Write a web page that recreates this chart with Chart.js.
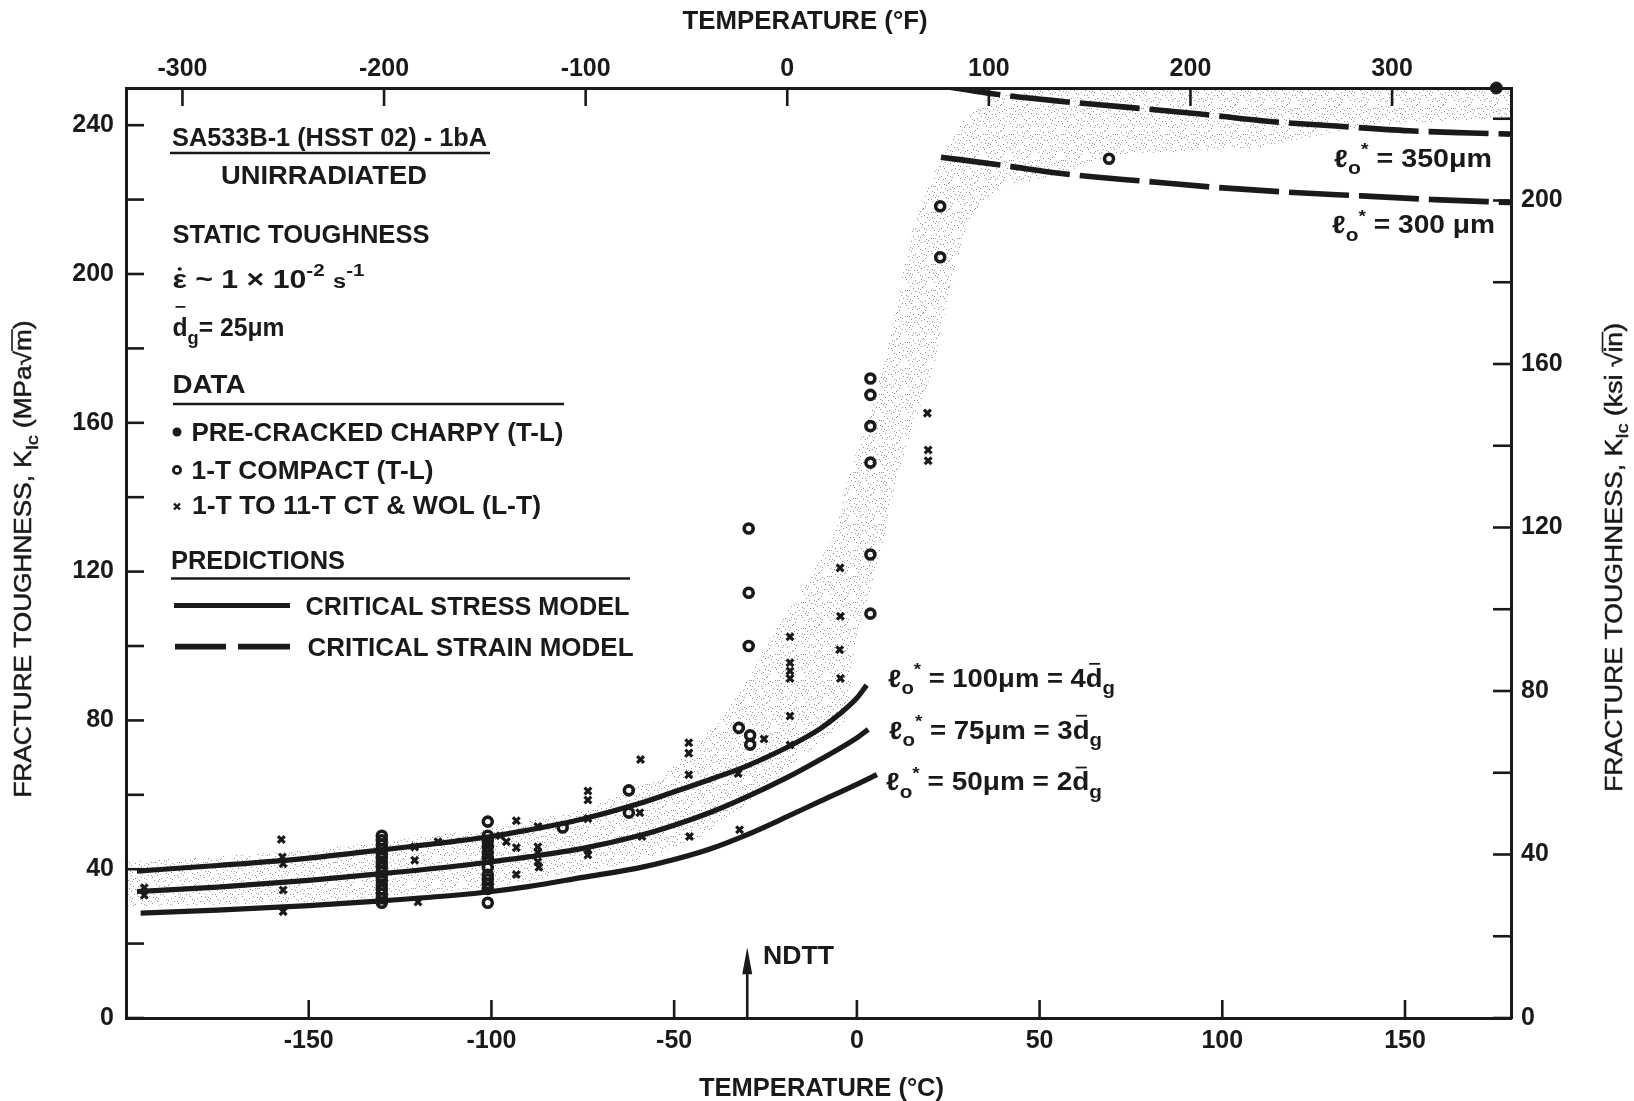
<!DOCTYPE html>
<html>
<head>
<meta charset="utf-8">
<script src="https://cdn.jsdelivr.net/npm/chart.js@4.4.1/dist/chart.umd.min.js"></script>
<style>
  html, body { margin: 0; padding: 0; background: #fff; }
  #marco { width: 1634px; height: 1101px; position: relative; }
</style>
</head>
<body>
<div id="marco"><canvas id="grafico"></canvas></div>
<script>
// temperatures in deg C, toughness K_Ic in MPa*sqrt(m)
var cTicks = [-150, -100, -50, 0, 50, 100, 150];
var fTicks = [-300, -200, -100, 0, 100, 200, 300];
var mpaTicks = [0, 20, 40, 60, 80, 100, 120, 140, 160, 180, 200, 220, 240];
var ksiTicks = [0, 20, 40, 60, 80, 100, 120, 140, 160, 180, 200, 220];

// critical stress model curves
var stress100 = [[-197, 39.5], [-175, 41], [-150, 43], [-130, 45.2], [-110, 47.5], [-100, 48.8], [-90, 50.5], [-75, 53.5],
  [-60, 57.5], [-50, 60.8], [-40, 64.2], [-30, 67.8], [-20, 72.3], [-10, 77.8], [-5, 81.5], [0, 86], [2.7, 89.5]];
var stress75 = [[-197, 34], [-175, 35.2], [-150, 37], [-130, 38.8], [-110, 40.8], [-100, 42], [-90, 43.3], [-75, 45.6],
  [-60, 48.9], [-50, 51.8], [-40, 55.3], [-30, 59.5], [-20, 64.2], [-10, 69.5], [0, 75.3], [3.1, 77.6]];
var stress50 = [[-196, 28.2], [-175, 29], [-150, 30.2], [-130, 31.5], [-110, 33], [-100, 34], [-90, 35.3], [-75, 37.8],
  [-60, 40.3], [-50, 42.6], [-40, 45.5], [-30, 49.3], [-20, 53.7], [-10, 58.3], [0, 62.8], [5.5, 65.4]];

// critical strain model curves
var strain350 = [[23, 250.6], [36, 248.6], [54, 246.6], [72, 245], [94, 243], [113, 241], [132, 239.7], [151, 238.5], [168, 237.9], [179, 237.6]];
var strain300 = [[23, 231.4], [40, 229.2], [56, 227], [66, 226], [78, 225], [98, 223.3], [118, 222], [138, 221], [158, 220], [179, 219.2]];

// measured data
var charpy = [[175, 250]];
var compact = [[-130, 49], [-130, 47.8], [-130, 46.6], [-130, 45.4], [-130, 44.2], [-130, 43], [-130, 41.8], [-130, 40.6],
  [-130, 39.4], [-130, 38.2], [-130, 37], [-130, 35.8], [-130, 34.6], [-130, 33.4], [-130, 32.2], [-130, 31],
  [-101, 52.8], [-101, 49], [-101, 47.5], [-101, 46], [-101, 44.5], [-101, 43], [-101, 40.5], [-101, 38.5], [-101, 37.3],
  [-101, 36], [-101, 34.7], [-101, 31],
  [-80.5, 51.2], [-62.4, 61.2], [-62.4, 55.2], [-32.3, 78], [-29.2, 76], [-29.2, 73.5],
  [-29.6, 131.6], [-29.6, 114.3], [-29.6, 100],
  [3.7, 171.9], [3.7, 167.5], [3.7, 159.1], [3.7, 149.3], [3.7, 124.6], [3.7, 108.7],
  [22.8, 218.2], [22.8, 204.5], [69, 231]];
var wol = [[-195, 35], [-195, 33],
  [-157.5, 48], [-157.2, 43.3], [-157, 41.5], [-157, 34.4], [-157, 28.6],
  [-130, 42], [-130, 36], [-130, 31.5],
  [-121, 46], [-121, 42.4], [-120.1, 31.2], [-114.6, 47.4], [-101, 43.3], [-97.6, 49],
  [-95.9, 47.4], [-93.2, 53], [-93.2, 45.8], [-93.2, 38.6],
  [-87.3, 51.5], [-87.3, 46], [-87.3, 44.5], [-87.3, 42], [-87, 40.5],
  [-73.6, 61], [-73.6, 58.6], [-73.6, 53.6], [-73.6, 45.2], [-73.6, 43.8],
  [-59.2, 69.5], [-59.4, 55.2], [-58.8, 48.8],
  [-46, 74], [-46, 71.2], [-46, 65.4], [-45.8, 48.8],
  [-32.5, 65.7], [-32.1, 50.6], [-25.4, 75],
  [-18.3, 102.5], [-18.3, 95.5], [-18.3, 93.3], [-18.3, 91.3], [-18.3, 81.2], [-18.3, 73.4],
  [-4.6, 121], [-4.5, 108], [-4.7, 99], [-4.5, 91.3],
  [19.3, 162.6], [19.5, 152.7], [19.5, 149.8]];

// scatter band edges
var bandLow = [[-200, 30], [-150, 31], [-100, 35], [-60, 42], [-42, 49], [-27, 60], [-14, 71], [-3, 80], [0, 102], [7, 127],
  [11, 146], [21, 175], [25, 194], [30, 213], [35, 220], [39, 223], [56, 227], [70, 232], [110, 234], [140, 240], [179, 242]];
var bandTop = [[-200, 42], [-150, 45], [-100, 51], [-75, 56], [-53, 65], [-37.5, 80], [-28.5, 93], [-24, 102], [-12, 120],
  [-6.5, 129], [-2, 146], [8, 178], [15, 212], [19, 223], [28, 240], [35, 247], [50, 250], [179, 250]];

var ndttTemp = -30;
var mpaPorKsi = 1.0988;

var tinta = '#1a1a1a';
var familia = "'Liberation Sans', Arial, Helvetica, sans-serif";

function puntos(arr) {
    return arr.map(function (p) { return { x: p[0], y: p[1] }; });
}
function fijarTicks(lista) {
    return function (axis) {
        axis.ticks = lista.map(function (v) { return { value: v }; });
    };
}
function cada40(v) {
    return v % 40 === 0 ? String(v) : '';
}

// stipple texture for the scatter band
var canvas = document.getElementById('grafico');
var trama = document.createElement('canvas');
trama.width = 26;
trama.height = 26;
var tc = trama.getContext('2d');
tc.fillStyle = 'rgba(0,0,0,0.42)';
for (var i = 0; i < 26; i++) {
    for (var j = 0; j < 26; j++) {
        if ((i * 17 + j * 31 + ((i * j) % 7) * 5) % 13 === 0) tc.fillRect(i, j, 1, 1);
    }
}
var punteado = canvas.getContext('2d').createPattern(trama, 'repeat');

// text made of runs: plain, subscript, superscript, overbar
function tramos(ctx, x, y, runs, size, weight, dibujar, trazo) {
    var cx = x;
    runs.forEach(function (r) {
        var fs = size, dy = 0;
        if (r.sub) { fs = size * 0.74; dy = size * 0.3; }
        if (r.sup) { fs = size * 0.68; dy = -size * 0.46; }
        if (r.small) { fs = size * 0.78; }
        ctx.font = weight + ' ' + fs + 'px ' + familia;
        var w = ctx.measureText(r.t).width;
        if (dibujar) {
            ctx.fillText(r.t, cx, y + dy);
            if (trazo) {
                ctx.lineWidth = trazo;
                ctx.strokeText(r.t, cx, y + dy);
            }
            if (r.bar) ctx.fillRect(cx + (r.full ? 0 : w * 0.2), y - size * (r.barAt || 0.95), r.full ? w : w * 0.65, Math.max(1.5, size * 0.07));
            if (r.dot) {
                ctx.beginPath();
                ctx.arc(cx + w * 0.5, y - size * 0.74, size * 0.07, 0, 2 * Math.PI);
                ctx.fill();
            }
        }
        cx += w;
    });
    return cx - x;
}
// same, squeezed or stretched to a given width
function tramosAncho(ctx, x, y, runs, size, weight, ancho, trazo) {
    var w = tramos(ctx, 0, 0, runs, size, weight, false);
    ctx.save();
    ctx.translate(x, y);
    ctx.scale(ancho / w, 1);
    tramos(ctx, 0, 0, runs, size, weight, true, trazo);
    ctx.restore();
}
function texto(ctx, t, x, y, ancho) {
    tramosAncho(ctx, x, y, [{ t: t }], 25, 'bold', ancho);
}
function raya(ctx, x1, y1, x2, y2, w) {
    ctx.lineWidth = w;
    ctx.beginPath();
    ctx.moveTo(x1, y1);
    ctx.lineTo(x2, y2);
    ctx.stroke();
}
function ele(num, tail) {
    var r = [{ t: '\u2113' }, { t: 'o', sub: true }, { t: '*', sup: true }, { t: ' = ' + num }];
    return r.concat(tail || []);
}

var decor = {
    id: 'decor',
    afterDraw: function (chart) {
        var ctx = chart.ctx;
        var s = chart.scales;
        var a = chart.chartArea;
        ctx.save();
        ctx.strokeStyle = tinta;
        ctx.fillStyle = tinta;
        ctx.textBaseline = 'alphabetic';
        ctx.textAlign = 'left';
        ctx.lineCap = 'butt';

        // inward tick marks on all four sides
        s.x.ticks.forEach(function (t) { var p = s.x.getPixelForValue(t.value); raya(ctx, p, a.bottom, p, a.bottom - 18, 2.6); });
        s.xF.ticks.forEach(function (t) { var p = s.xF.getPixelForValue(t.value); raya(ctx, p, a.top, p, a.top + 18, 2.6); });
        s.y.ticks.forEach(function (t) { var p = s.y.getPixelForValue(t.value); raya(ctx, a.left, p, a.left + 18, p, 2.6); });
        s.yR.ticks.forEach(function (t) { var p = s.yR.getPixelForValue(t.value); raya(ctx, a.right, p, a.right - 18, p, 2.6); });

        // axis titles
        texto(ctx, 'TEMPERATURE (\u00B0F)', 682.6, 28.6, 245);
        texto(ctx, 'TEMPERATURE (\u00B0C)', 699, 1096, 245);
        var tituloIzq = [{ t: 'FRACTURE TOUGHNESS, K' }, { t: 'Ic', sub: true }, { t: ' (MPa' }, { t: '\u221A' }, { t: 'm', bar: true, full: true, barAt: 0.86 }, { t: ')' }];
        var tituloDer = [{ t: 'FRACTURE TOUGHNESS, K' }, { t: 'Ic', sub: true }, { t: ' (ksi ' }, { t: '\u221A' }, { t: 'in', bar: true, full: true, barAt: 0.86 }, { t: ')' }];
        [[tituloIzq, 31, 559, 477], [tituloDer, 1621.5, 557.5, 469]].forEach(function (d) {
            ctx.save();
            ctx.translate(d[1], d[2]);
            ctx.rotate(-Math.PI / 2);
            tramosAncho(ctx, -d[3] / 2, 0, d[0], 23, 'normal', d[3], 0.5);
            ctx.restore();
        });

        // description and legend block
        texto(ctx, 'SA533B-1 (HSST 02) - 1bA', 172, 146, 315);
        raya(ctx, 170, 153, 490, 153, 2.5);
        texto(ctx, 'UNIRRADIATED', 221, 184, 206);
        texto(ctx, 'STATIC TOUGHNESS', 172.5, 243, 257);
        tramosAncho(ctx, 172.5, 287.5, [{ t: '\u03B5', dot: true }, { t: ' ~ 1 \u00D7 10' }, { t: '-2', sup: true }, { t: ' ' }, { t: 's', small: true }, { t: '-1', sup: true }], 25, 'bold', 192);
        tramosAncho(ctx, 172.5, 336, [{ t: 'd', bar: true, barAt: 1.2 }, { t: 'g', sub: true }, { t: '= 25\u03BCm' }], 25, 'bold', 112);
        texto(ctx, 'DATA', 172.5, 393, 73);
        raya(ctx, 173, 404, 564, 404, 2.5);

        ctx.beginPath();
        ctx.arc(177, 432, 4.5, 0, 2 * Math.PI);
        ctx.fill();
        texto(ctx, 'PRE-CRACKED CHARPY (T-L)', 191.5, 441, 372);
        ctx.lineWidth = 2.8;
        ctx.beginPath();
        ctx.arc(177, 470, 3.6, 0, 2 * Math.PI);
        ctx.stroke();
        texto(ctx, '1-T COMPACT (T-L)', 191.5, 478.6, 242);
        raya(ctx, 174, 503.5, 180, 509.5, 2.4);
        raya(ctx, 180, 503.5, 174, 509.5, 2.4);
        texto(ctx, '1-T TO 11-T CT & WOL (L-T)', 192, 514, 349);

        texto(ctx, 'PREDICTIONS', 171, 568.6, 174);
        raya(ctx, 171, 578.6, 630, 578.6, 2.5);
        raya(ctx, 174, 605.5, 290, 605.5, 5.2);
        texto(ctx, 'CRITICAL STRESS MODEL', 305.5, 615, 324);
        raya(ctx, 175, 646.6, 226, 646.6, 5.6);
        raya(ctx, 238, 646.6, 290, 646.6, 5.6);
        texto(ctx, 'CRITICAL STRAIN MODEL', 307.5, 656, 326);

        // curve labels
        var dg = function (n) { return [{ t: ' = ' + n }, { t: 'd', bar: true, barAt: 0.95 }, { t: 'g', sub: true }]; };
        tramosAncho(ctx, 1334, 166.7, ele('350\u03BCm'), 25, 'bold', 158);
        tramosAncho(ctx, 1332, 233, ele('300 \u03BCm'), 25, 'bold', 163);
        tramosAncho(ctx, 888, 686.7, ele('100\u03BCm', dg(4)), 25, 'bold', 227);
        tramosAncho(ctx, 889, 738.6, ele('75\u03BCm', dg(3)), 25, 'bold', 213);
        tramosAncho(ctx, 886, 790.4, ele('50\u03BCm', dg(2)), 25, 'bold', 216);

        // NDTT arrow
        var xn = s.x.getPixelForValue(ndttTemp);
        var yTip = s.y.getPixelForValue(19);
        raya(ctx, xn, a.bottom, xn, yTip + 24, 2.6);
        ctx.beginPath();
        ctx.moveTo(xn, yTip);
        ctx.lineTo(xn - 5, yTip + 27);
        ctx.lineTo(xn + 5, yTip + 27);
        ctx.closePath();
        ctx.fill();
        texto(ctx, 'NDTT', 763, 963.5, 71);
        ctx.restore();
    }
};

var fuenteTicks = { family: familia, size: 25, weight: 'bold', lineHeight: 1.2 };
function eje(pos, extra) {
    var o = {
        type: 'linear',
        position: pos,
        grid: { display: false, drawTicks: false },
        border: { display: true, color: tinta, width: 3 },
        ticks: { color: tinta, font: fuenteTicks, autoSkip: false, maxRotation: 0, minRotation: 0 }
    };
    for (var k in extra) {
        if (k === 'ticks') {
            for (var j in extra.ticks) o.ticks[j] = extra.ticks[j];
        } else {
            o[k] = extra[k];
        }
    }
    return o;
}

function linea(datos, ancho, guion) {
    return {
        data: puntos(datos),
        showLine: true,
        borderColor: tinta,
        borderWidth: ancho,
        borderDash: guion || [],
        borderCapStyle: 'butt',
        pointRadius: 0,
        cubicInterpolationMode: 'monotone',
        fill: false,
        order: 3
    };
}

new Chart(canvas, {
    type: 'scatter',
    data: {
        datasets: [
            { label: 'PRE-CRACKED CHARPY (T-L)', data: puntos(charpy), pointStyle: 'circle', pointRadius: 6, backgroundColor: tinta, borderColor: tinta, clip: false, order: 0 },
            { label: '1-T COMPACT (T-L)', data: puntos(compact), pointStyle: 'circle', pointRadius: 4.5, backgroundColor: 'rgba(255,255,255,0)', borderColor: tinta, borderWidth: 3.6, order: 1 },
            { label: '1-T TO 11-T CT & WOL (L-T)', data: puntos(wol), pointStyle: 'crossRot', pointRadius: 4.8, borderColor: tinta, borderWidth: 3.2, order: 2 },
            linea(stress100, 5.2),
            linea(stress75, 5.2),
            linea(stress50, 5.2),
            linea(strain350, 5.6, [60, 10]),
            linea(strain300, 5.6, [60, 10]),
            { data: puntos(bandLow), showLine: true, borderColor: 'rgba(0,0,0,0)', borderWidth: 0, pointRadius: 0, fill: false, order: 9 },
            { data: puntos(bandTop), showLine: true, borderColor: 'rgba(0,0,0,0)', borderWidth: 0, pointRadius: 0, fill: '-1', backgroundColor: punteado, order: 9 }
        ]
    },
    options: {
        responsive: true,
        maintainAspectRatio: false,
        animation: false,
        events: [],
        layout: { padding: 0 },
        scales: {
            x: eje('bottom', { min: -200, max: 179, afterBuildTicks: fijarTicks(cTicks), afterFit: function (sc) { sc.height = 83; }, ticks: { padding: 8 } }),
            xF: eje('top', { min: -328, max: 359, afterBuildTicks: fijarTicks(fTicks), afterFit: function (sc) { sc.height = 88; }, ticks: { padding: 4 } }),
            y: eje('left', { min: 0, max: 250, afterBuildTicks: fijarTicks(mpaTicks), afterFit: function (sc) { sc.width = 126; }, ticks: { padding: 12, callback: cada40 } }),
            yR: eje('right', { min: 0, max: 250 / mpaPorKsi, afterBuildTicks: fijarTicks(ksiTicks), afterFit: function (sc) { sc.width = 123; }, ticks: { padding: 10, callback: cada40 } })
        },
        plugins: {
            legend: { display: false },
            tooltip: { enabled: false },
            filler: { drawTime: 'beforeDatasetsDraw' }
        }
    },
    plugins: [decor]
});
</script>
</body>
</html>
